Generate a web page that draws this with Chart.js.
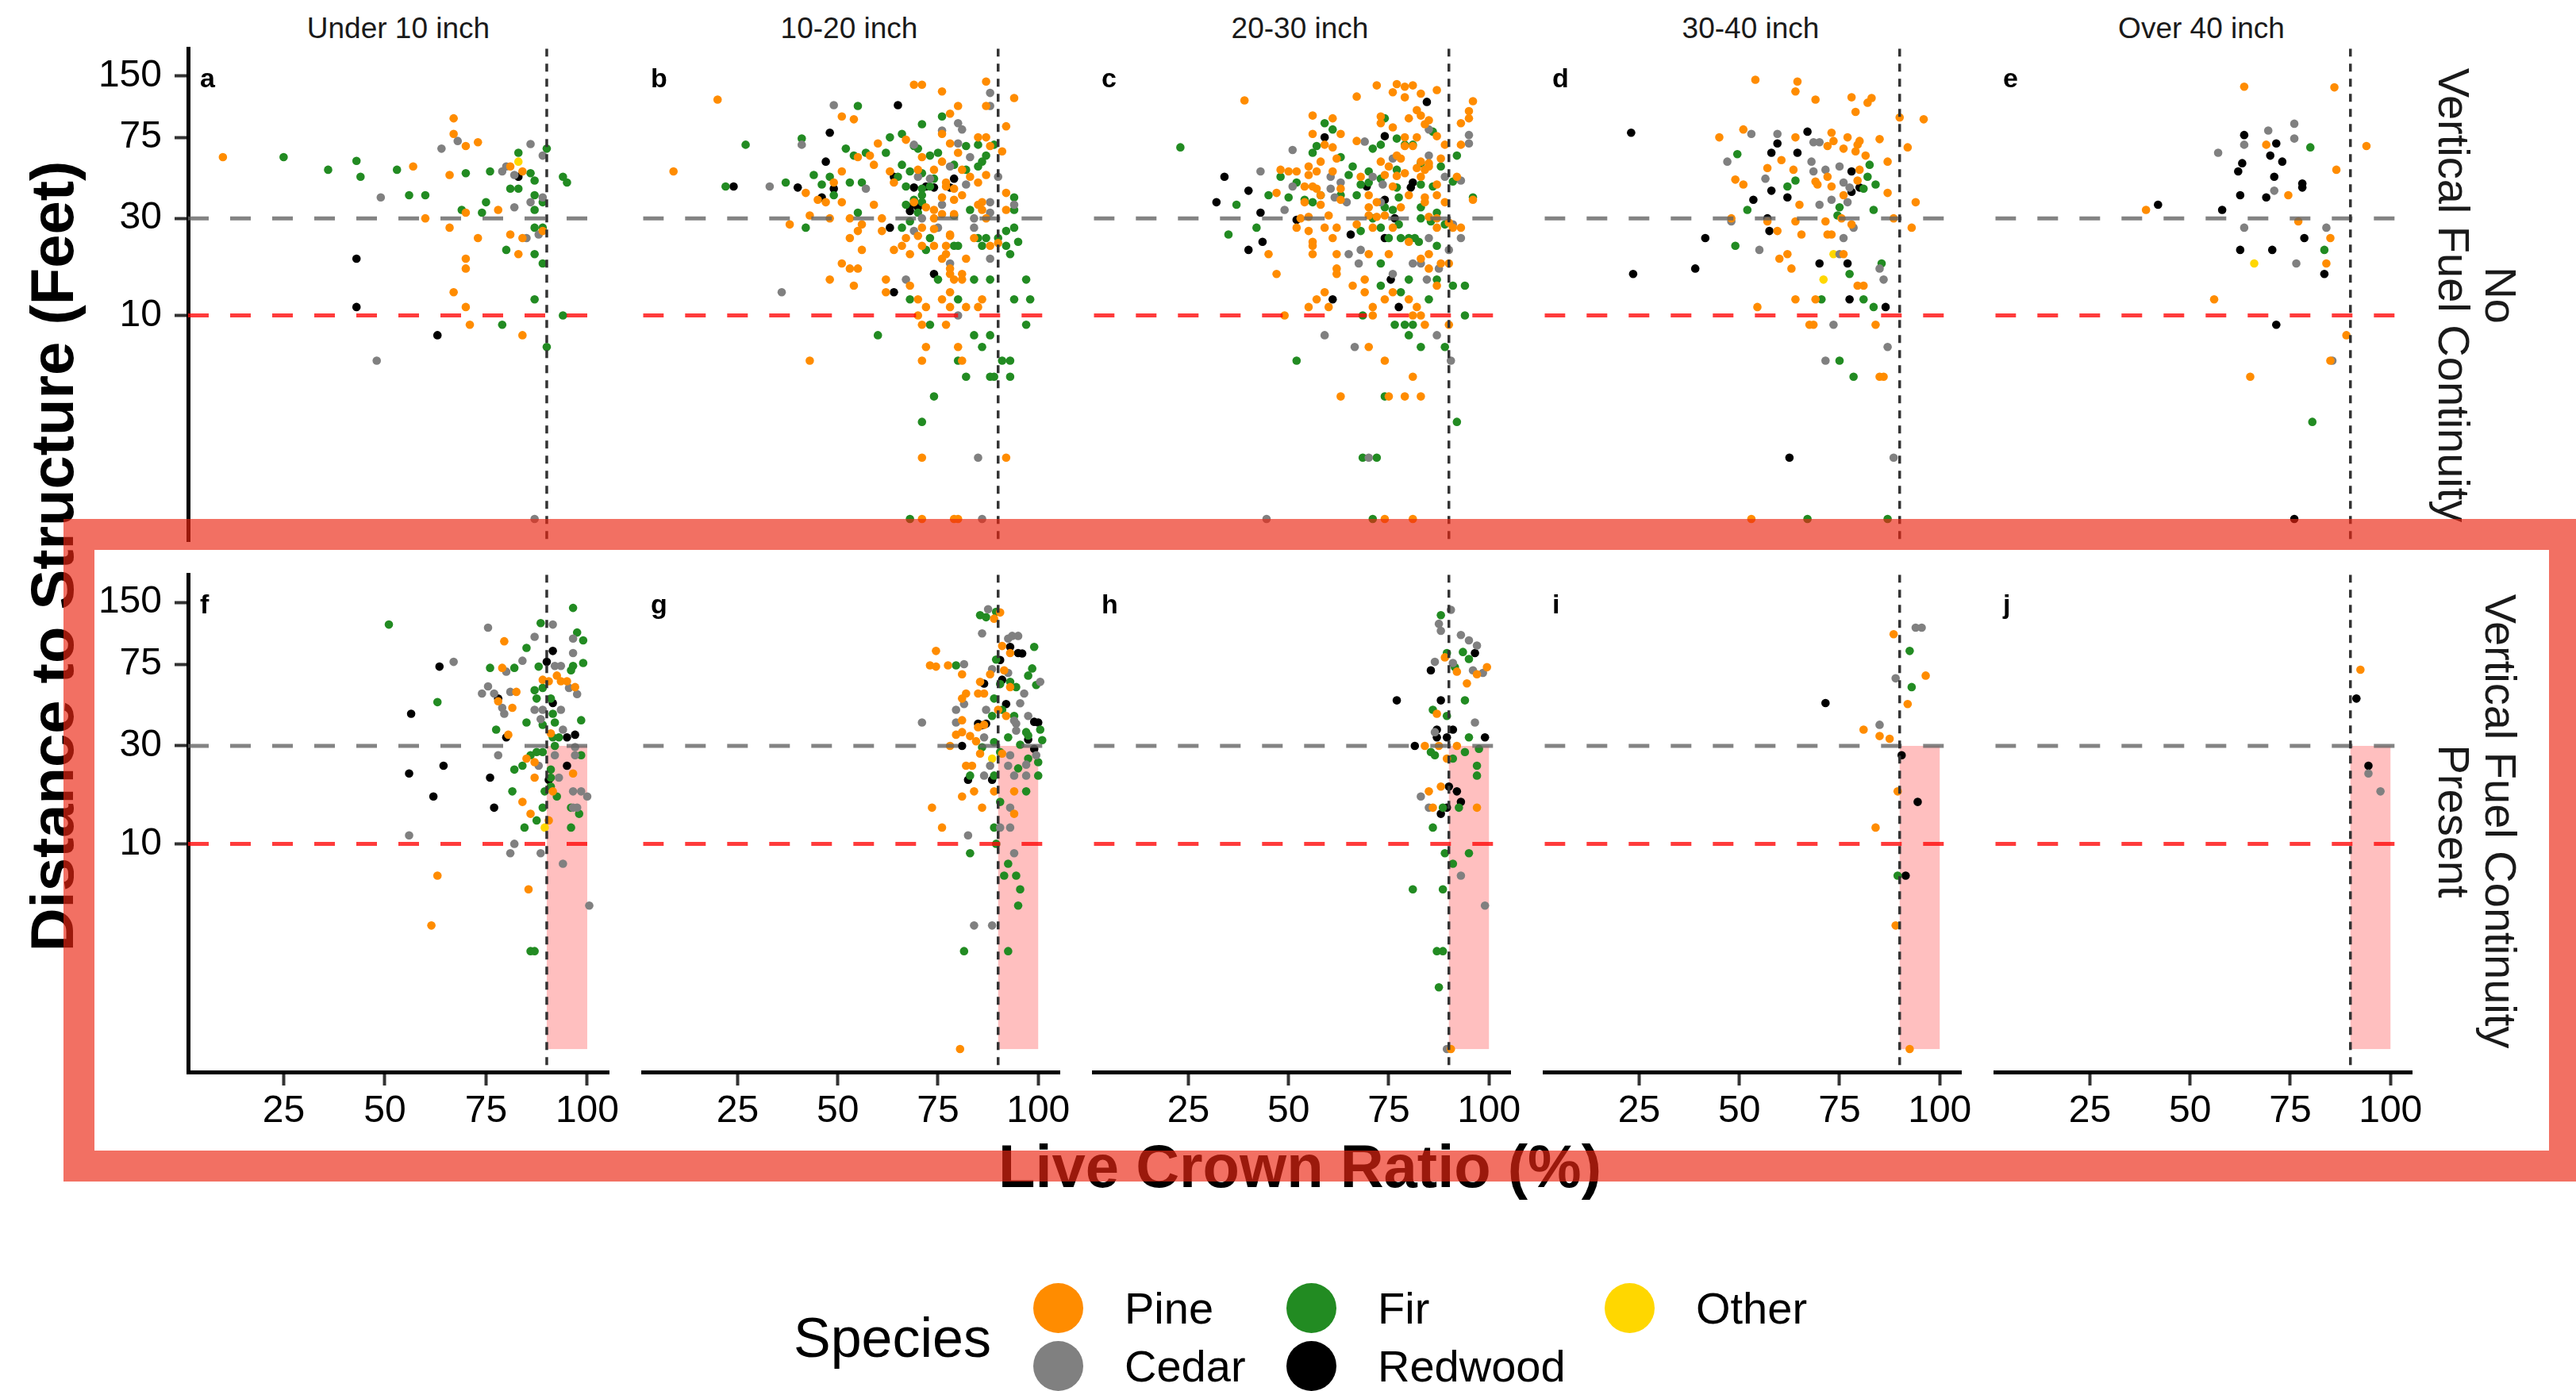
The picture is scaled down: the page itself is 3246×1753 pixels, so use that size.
<!DOCTYPE html>
<html>
<head>
<meta charset="utf-8">
<script src="https://cdn.jsdelivr.net/npm/chart.js@4.4.1/dist/chart.umd.min.js"></script>
<style>
html, body { margin: 0; padding: 0; background: #fff; }
#page { position: relative; width: 3246px; height: 1753px; overflow: hidden; font-family: "Liberation Sans", Arial, sans-serif; }
#page canvas { position: absolute; }
.txt { position: absolute; white-space: nowrap; color: #000; text-align: center; }
.key { position: absolute; width: 63px; height: 63px; border-radius: 50%; }
#band { position: absolute; left: 80px; top: 654px; width: 3171px; height: 835px; box-sizing: border-box;
        border: 39px solid rgba(236, 38, 18, 0.66); z-index: 10; pointer-events: none; }
</style>
</head>
<body>
<div id="page"><div id="band"></div></div>
<script>
// ---- data: [live crown ratio %, distance to structure ft] ----
// row 1: no vertical fuel continuity
var a_pine = [[10,60],[67,93],[67,78],[70,68],[73,71],[57,54],[66,49],[81,54],[84,51],[78,33],[70,32],[60,30],[66,27],[73,24],[81,25],[84,24],[89,26],[83,20],[70,19],[70,17],[67,13],[70,11],[71,9],[84,8]]
var a_cedar = [[64,66],[68,72],[86,69.5],[89,61],[79,51],[80,54],[82,49],[49,38],[89,38],[86,36],[82,34],[88,25],[85,24],[48,6],[87,1]]
var a_fir = [[25,60],[43,57.5],[36,52],[44,48],[53,52],[56,39],[60,39],[70,50],[76,51],[83,63],[90,66],[86,50],[87,46],[81,42],[83,42],[87,39],[89,36],[87,33],[75,36],[69,33],[74,32],[94,48],[95,45],[87,27],[89,27],[80,21],[87,20],[89,18],[87,12],[94,10],[79,9],[90,7]]
var a_redwood = [[43,19],[43,11],[63,8],[83,48]]
var a_other = [[83,57]]

var b_pine = [[20,115],[9,51],[69,136],[71,136],[76,126],[87,141],[94,117],[80,107],[87,107],[51,95],[54,92],[78,98],[92,85],[76,78],[85,75],[87,75],[67,73],[60,70],[78,70],[88,68],[91,64],[80,63],[71,60],[58,61],[55,60],[59,55],[51,51],[63,51],[70,52],[74,52],[76,57],[81,52],[83,48],[87,49],[85,45],[92,40],[77,45],[79,42],[64,45],[49,45],[77,43],[81,39],[79,37],[76,38],[42,40],[45,37],[47,36],[51,36],[59,35],[69,36],[72,34],[74,33],[85,35],[86,36],[92,33],[86,33],[76,31.5],[79,31.5],[87,30],[43,31],[48,30],[53,30],[61,30],[74,30],[38,28],[56,28],[55,26],[61,26],[71,27],[74,26.6],[78,25],[53,24],[67,24],[70,24.6],[78,24.6],[84,24],[88,22],[90,22.7],[56,21],[64,21],[66,22],[68,20],[71,22],[74,22],[77,22],[77,20],[76,19],[82,19],[51,18],[53,17],[55,17],[78,17],[81,16],[79,15],[81,15],[78,16],[48,15],[54,14],[62,15],[68,14],[62,13],[70,12],[72,11],[76,12],[78,11],[78,13],[82,11],[85,11],[86,12],[70,10],[71,9],[77,9],[72,7],[80,7],[71,6],[81,6],[43,6],[71,2],[92,2],[71,1],[79,1],[80,1]]
var b_cedar = [[49,108],[41,69],[33,43],[57,42],[88,124],[88,107],[80,88],[81,82],[76,81],[69,69],[80,70],[83,60],[78,54],[90,48],[82,44],[70,48],[73,47],[76,35],[88,36],[94,35],[88,32],[71,30],[84,30],[75,27],[84,27],[69,26],[88,19],[78,18],[67,15],[36,13],[80,10],[85,2],[86,1]]
var b_fir = [[27,69],[22,43],[37,45],[41,74],[44,49],[46,44],[48,48],[49,39],[53,45],[55,107],[52,66],[54,61],[56,45],[55,32],[42,27],[57,63],[62,63],[63,75],[66,78],[71,87],[76,95],[69,68],[70,66],[73,61],[75,63],[82,68],[85,69],[89,69],[87,61],[86,57],[85,54],[66,55],[68,51],[71,50],[74,47],[65,48],[67,43],[71,42],[71,39],[73,43],[79,55],[82,52],[67,35],[69,37],[71,36],[66,27],[68,29],[70,32],[79,31],[83,33],[94,38],[94,33],[94,27],[92,26],[85,24],[87,24],[90,24],[86,22],[95,23],[92,22],[93,20],[72,21],[73,24],[79,22],[80,22],[75,15],[84,15],[88,15],[97,15],[68,12],[80,12],[94,12],[98,12],[97,9],[73,9],[60,8],[84,8],[88,8],[86,7],[80,6],[91,6],[93,6],[82,5],[88,5],[89,5],[93,5],[74,4],[71,3],[68,1]]
var b_redwood = [[24,43],[40,42.5],[48,79],[47,57],[46,38],[49,42],[65,108],[64,48],[69,42.5],[72,43],[74,42.5],[78,42.5],[79,47],[68,34],[70,34],[68,32.6],[63,27],[74,16],[64,13]]
var b_other = []

var c_pine = [[39,114],[67,119],[72,135],[77,137],[79,133],[81,135],[76,125],[79,118],[83,123],[87,128],[96,113],[95,101],[95,93],[93,88],[93,69],[82,102],[83,96],[85,91],[84,87],[80,93],[73,95],[73,88],[76,84],[56,96],[61,93],[63,78],[56,78],[59,69],[67,72],[61,67],[62,59],[79,75],[82,75],[87,76],[89,69],[81,68],[79,68],[73,57],[75,54],[77,61],[78,59],[83,57],[85,56],[88,59],[82,53],[84,52],[83,48],[85,54],[48,52],[50,51],[52,51],[55,54],[57,51],[55,49],[58,57],[61,51],[68,48],[74,49],[77,48.5],[79,50],[92,48],[47,40],[54,43],[56,43],[57,42],[58,39],[63,42],[63,37],[70,39],[76,43],[80,39],[84,38],[87,44],[87,39],[89,36],[96,37],[54,36],[58,35],[70,34],[72,36],[78,34],[84,36],[53,30],[55,30.5],[60,31],[70,31],[72,30.5],[74,31],[85,30.5],[87,30],[90,28.6],[91,27],[93,27],[52,27],[55,26],[59,27],[62,27],[67,28],[71,27],[76,27],[87,27],[61,24],[56,23],[56,22],[56,20],[45,20],[62,20],[70,20],[75,20],[80,23],[83,19],[85,20],[88,18],[90,18],[85,17],[62,17],[62,16],[47,16],[69,15],[66,14],[69,13],[76,13],[87,14],[59,13],[57,12],[55,11],[60,11],[74,12],[80,12],[82,11],[71,11],[71,10],[81,10],[83,10],[49,10],[84,9],[90,9],[70,7],[74,6],[81,5],[63,4],[75,4],[79,4],[83,4],[74,1],[81,1]]
var c_cedar = [[51,65],[43,51],[51,43],[49,33],[60.5,48],[63,45],[60.5,42],[61.5,38],[64.5,36],[69,71.5],[71,48],[73.5,44],[73,36],[76,59],[85,61],[85,82],[89,48],[93,46],[95,77],[95,70],[91,28],[93,24],[90,21],[85,24],[65,20],[68,21],[67.5,18],[81,18],[83,18],[76,16],[84.5,15],[87.5,17],[59,8],[66.5,7],[87,8],[90.5,6],[70,2],[44.5,1]]
var c_fir = [[23,67],[59,88],[61,82],[74,93],[57,68],[56,63],[63,60],[77,74],[79,69],[81,69],[71,66],[73,69],[86,80],[66,54],[65,49],[70,51],[77,52],[83,56],[88,54],[48,48],[52,45],[50,38],[45,39],[37,35],[42,27],[35,25],[54,37],[56,36],[58,39],[63,39],[67,39],[68,44],[70,45],[73,47],[77.5,38],[77,42.5],[83,44],[86,43],[91,45.5],[83,34],[83,30],[87,32],[76,33],[74,34],[71,30],[77.5,28],[73,27],[68,26],[85.5,29],[89,28],[92,61],[96,38],[75,24],[78,24],[80,24],[81.5,24],[82.5,23],[87,22],[73,18],[80,15],[87,15],[73,14],[78,13],[85,12],[91,14],[94,14],[68.5,10],[94,10],[76.5,9],[79,9],[81,9],[80,8],[83,7],[89,7],[52,6],[74,4],[92,3],[68.5,2],[72,2],[71,1]]
var c_redwood = [[34,48],[40,41],[32,36],[43,32],[40,21],[43.5,23],[52,29.5],[59,75],[74,76],[84.5,112],[81,45],[80.5,42.5],[74,37],[76.5,30],[74,24],[65.5,25],[75.5,15],[61,12],[77.5,11],[69.5,43]]
var c_other = []

var d_pine = [[54,144],[64.5,141],[64,126],[69,115],[78,118],[83,117],[82,111],[79,100],[90,94],[96,92],[92,67],[51,82],[45,75],[64,75],[73,79],[73.5,72],[77,75],[80,72],[79.5,69],[85,73.5],[76,66],[72,68],[79,64],[81.5,61],[87,57],[60.5,58],[57,53],[63.5,52],[72,48],[80,52],[79.5,46],[49,46.5],[51,44],[69,45.5],[69.5,44],[73,43],[76,39],[87,40],[94,36],[65,35],[48,30],[57,29],[64,29],[71.5,29],[75.5,30],[78,28],[88.5,30],[93,27],[59.5,26],[65.5,25],[72,25],[73,25],[62,20],[60,19],[63,17],[76,20],[79.5,14],[81,14],[64,12],[69,12],[54.5,11],[67.5,9],[68.5,9],[84,9],[85,5],[86,5],[53,1]]
var d_cedar = [[53,78],[59.5,78],[47,57],[56.5,47],[68.5,71],[70,71],[68,57],[68.5,51],[71.5,52],[75,54],[76,45],[77.5,42.5],[77,36],[73,37],[70,35],[78.5,27],[76,24],[48,29],[55,21],[75,20],[85,17],[86,15],[73.5,9],[87,7],[71.5,6],[88.5,2]]
var d_fir = [[49.5,62],[62,43],[64,46],[52,33],[49,22],[82.5,55],[82,48],[84,44],[81,42],[75,34],[74.5,31],[83.5,33],[85.5,18],[77.5,16],[70.5,12],[81,12],[83.5,11],[75,6],[78.5,5],[67,1],[87,1]]
var d_redwood = [[23,79],[67,80],[59.5,70],[58,63],[64.5,63],[78,51],[80,42.5],[78,40.5],[53.5,37],[58,41],[62,38],[57,30],[57.5,26],[41.5,24],[39,17],[23.5,16],[70,18],[77,18],[77.5,12],[86.5,11],[62.5,2]]
var d_other = [[73.5,20],[71,15]]

var e_pine = [[63.5,133],[86,132],[69,69],[94,68],[86.5,52],[74.5,39],[39,33],[77,29],[85,24],[84,18],[56,12],[89,8],[85,6],[65,5]]
var e_cedar = [[76,87.5],[69.5,81],[76,74],[63.5,69],[57,63],[71,41],[63.5,27],[84,27],[76.5,18],[85.5,6]]
var e_fir = [[80,67],[83.5,21],[80.5,3]]
var e_redwood = [[63.5,77],[71.5,70],[70,61],[63,56],[73,57],[62,51],[71,48],[78,44.5],[78,42.5],[62.5,39],[69,38],[42,35],[58,33],[78.5,24],[62.5,21],[70.5,21],[83.5,16],[71.5,9],[76,1]]
var e_other = [[66,18]]

// row 2: vertical fuel continuity present
var f_pine = [[79.5,97],[79,72],[82.5,55],[81.5,46],[80.5,34],[89,63],[90.5,62],[92.5,66],[93.5,62],[95,62],[97,58],[91,34.5],[85,26],[87,25],[87,21],[91.5,18],[96.5,22],[84,16],[86,14],[90.5,13],[85.5,6],[63,7],[61.5,4],[78,49.5]]
var f_cedar = [[75.5,113],[67,77],[91.5,117],[87,102],[96.5,100],[96.5,85],[80,69],[84,78],[74,54],[75.5,58.5],[77,54],[81,55],[79,46],[79.5,43],[87,45],[89,45],[93.5,45],[92,73.5],[93.5,73.5],[95.5,57.5],[97.5,53.6],[88.5,40.5],[94,36],[97,29.6],[97,27],[88,24],[92,27],[93,21],[78,27],[96.5,18],[98.5,18],[100,17],[96.5,15],[97.5,15],[82,10],[81,9],[88.5,9],[94,8],[56,11],[100.5,5]]
var f_fir = [[51,117],[63,49],[76,72],[82,72],[88.5,119],[96.5,141],[97.5,107],[99,98],[85,90],[88,73],[96.5,73.5],[96,70],[99,76],[87,56],[89,57.5],[87.5,51],[91,51],[91.5,43],[92,39],[89,38],[85,39],[98.5,40],[77.5,36],[91.5,33],[93,33],[89,28],[86,27],[87.5,28],[84,24],[82,23],[91,23],[91,21],[91,19],[92,30],[98.5,27],[81.5,18],[89.5,18],[92.5,17],[89,15],[87.5,13],[84.5,12],[96,12],[96,15],[98,14],[86,3],[87,3]]
var f_redwood = [[56.5,43],[63.5,73],[56,22],[64.5,24],[62,17],[76,21],[77,15],[78,51],[80,33],[90,77],[91.5,87],[91.5,48.5],[95,33],[97,34],[95,24],[90.5,20.5]]
var f_other = [[89.5,12]]

var g_pine = [[90.5,134],[89,125],[74.5,87],[73,74],[74.5,73],[77.5,74],[81,67],[91,92],[93,85],[91.5,70],[88,67],[85.5,61.5],[82,54],[81,51],[85,54],[86.5,54],[93,58],[81,40],[79.5,34],[81,35],[83,33.5],[84.5,31.6],[85,37],[86.5,38],[78,30],[90,45],[92,42],[85.5,27.5],[91,27.5],[82,24],[83.5,24],[84,18],[89,18],[94,18],[81,17],[73.5,15],[86,15],[94,14],[76,12],[80.5,1]]
var g_cedar = [[87.5,139],[86,106],[92.5,100],[93.5,103],[95,103],[81.5,75],[88.5,71],[92.5,68],[100.5,61.5],[96.5,54],[95.5,48.4],[81.5,48],[79.5,45],[87,45],[97.5,42],[94,39.8],[94.5,38.5],[79.5,39],[71,39],[86.5,33],[94.5,35.6],[93,27],[92.5,24],[88,24],[97,24.3],[99.5,27],[86.5,21.5],[94,21.5],[97,21.5],[93,15],[90.5,12],[93,12],[82.5,11],[94,9],[84,4],[88.5,4]]
var g_fir = [[85.5,130],[87,127],[89.5,135],[99,91],[79.5,74],[89.5,79],[98.5,71.5],[97.5,66],[93,61.5],[94.5,58],[99.5,59.4],[90.5,60],[89,51],[88.5,42],[91,45],[94,42],[97,35],[100.5,36],[101,32],[97.5,33.7],[95.5,30.4],[92.5,33],[89,31.3],[86,29.5],[90.5,28],[97.5,26],[100,25],[100,21.5],[95,23.3],[89,21.5],[83,21.5],[97,18],[90.5,16],[89,12],[83,9],[92.5,8],[91.5,7],[94.5,7],[95.5,6],[95,5],[81.5,3],[92.5,3],[89.5,10]]
var g_redwood = [[93,91],[95,85],[96,84.6],[90.5,78.6],[91,63],[86.5,60.3],[92,48],[85,38.5],[87,38.5],[99,39.3],[100,39],[97.5,32.2],[99,29],[81,30],[82.5,20.5],[88.5,20.5],[86,37.8]]
var g_other = [[88.5,26]]

var h_pine = [[89,81],[92,69],[94.5,60.5],[97,67],[99.5,72.5],[87,43],[84,30],[87.5,30],[92,30],[89.5,26],[85,18],[88,19],[86,15],[97,15],[90.5,1]]
var h_cedar = [[90.5,138],[87.5,118],[88,109],[93,104],[95,98],[97,92.5],[86.5,77],[91,76],[96,70],[98.5,68],[96.5,39],[86.5,35],[83,17],[85,15],[93,7],[99,5],[89.5,1]]
var h_fir = [[88,130],[93.5,86],[95,79.5],[89.5,85],[91.5,72.5],[94,50],[86,45],[89.5,42],[95,33],[97.5,29],[85.5,28],[86.5,27],[91,26],[94,28],[97,24],[97,21.5],[88.5,15],[92.5,15],[86,12],[89,9],[95,9],[91,8],[81,6],[88.5,6],[87,3],[88.5,3],[87.5,2]]
var h_redwood = [[77,50],[88,50],[85.5,70],[96.5,85],[87,36],[91,36],[87,33],[89.5,33],[81.5,30],[99,33],[90,19],[92,18],[93,16],[89.5,15],[88,14]]
var h_other = []

var i_pine = [[88.5,105],[96.5,66],[92,48],[81,36],[85,33.5],[87.5,32.5],[89.5,18],[84,12],[89,4],[92.5,1]]
var i_cedar = [[94,113],[95.5,113],[89,64],[85,38]]
var i_fir = [[92.5,87],[93,58],[89.5,7]]
var i_redwood = [[71.5,48.5],[90.5,27],[94.5,16],[91.5,7]]
var i_other = []

var j_pine = [[92.5,70.5]]
var j_cedar = [[94.5,22],[97.5,18]]
var j_fir = []
var j_redwood = [[91.5,51],[94.5,24]]
var j_other = []

var sizeClasses = ['Under 10 inch', '10-20 inch', '20-30 inch', '30-40 inch', 'Over 40 inch']
var continuity = [['No', 'Vertical Fuel Continuity'], ['Vertical Fuel Continuity', 'Present']]
var panelLetters = ['a','b','c','d','e','f','g','h','i','j']
var species = ['Pine', 'Cedar', 'Fir', 'Redwood', 'Other']
var speciesColors = ['#FF8C00', '#808080', '#228B22', '#000000', '#FFD700']
var xTicks = [25, 50, 75, 100]
var yTicks = [10, 30, 75, 150]
var crownCut = 90          // vertical dashed line
var distLines = [30, 10]   // grey and red dashed lines
var shadeCrown = [90, 100] // pink box, bottom row
var shadeDist = [1, 30]

var panelData = [
  [a_pine, a_cedar, a_fir, a_redwood, a_other],
  [b_pine, b_cedar, b_fir, b_redwood, b_other],
  [c_pine, c_cedar, c_fir, c_redwood, c_other],
  [d_pine, d_cedar, d_fir, d_redwood, d_other],
  [e_pine, e_cedar, e_fir, e_redwood, e_other],
  [f_pine, f_cedar, f_fir, f_redwood, f_other],
  [g_pine, g_cedar, g_fir, g_redwood, g_other],
  [h_pine, h_cedar, h_fir, h_redwood, h_other],
  [i_pine, i_cedar, i_fir, i_redwood, i_other],
  [j_pine, j_cedar, j_fir, j_redwood, j_other]
]

// ---- layout ----
var FONT = '"Liberation Sans", Arial, sans-serif'
var PANEL_W = 530, PANEL_H = 632
var COL_X = [237, 805, 1373, 1941, 2509]
var ROW_Y = [56, 719]
var Y_AXIS_W = 130, X_AXIS_H = 90, R_PAD = 40
var page = document.getElementById('page')

function addText(txt, css) {
  var d = document.createElement('div')
  d.className = 'txt'
  d.textContent = txt
  Object.assign(d.style, css)
  page.appendChild(d)
  return d
}

var refLines = function(row) {
  return {
    id: 'refLines',
    beforeDatasetsDraw: function(chart) {
      if (row !== 1) return
      var ctx = chart.ctx, x = chart.scales.x, y = chart.scales.y
      var x0 = x.getPixelForValue(shadeCrown[0]), x1 = x.getPixelForValue(shadeCrown[1])
      var y0 = y.getPixelForValue(shadeDist[0]), y1 = y.getPixelForValue(shadeDist[1])
      ctx.save()
      ctx.fillStyle = 'rgba(255,0,0,0.25)'
      ctx.fillRect(x0, y1, x1 - x0, y0 - y1)
      ctx.restore()
    },
    afterDatasetsDraw: function(chart) {
      var ctx = chart.ctx, a = chart.chartArea, x = chart.scales.x, y = chart.scales.y
      ctx.save()
      ctx.beginPath(); ctx.rect(a.left, a.top, a.right - a.left, a.bottom - a.top); ctx.clip()
      ctx.lineWidth = 5
      ctx.setLineDash([26, 27])
      var cols = ['rgba(100,100,100,0.8)', 'rgba(255,10,10,0.8)']
      distLines.forEach(function(v, k) {
        var py = y.getPixelForValue(v)
        ctx.strokeStyle = cols[k]
        ctx.beginPath(); ctx.moveTo(a.left, py); ctx.lineTo(a.right, py); ctx.stroke()
      })
      var px = x.getPixelForValue(crownCut)
      ctx.lineWidth = 3.5
      ctx.strokeStyle = '#333333'
      ctx.setLineDash([10, 9])
      ctx.beginPath(); ctx.moveTo(px, a.top); ctx.lineTo(px, a.bottom); ctx.stroke()
      ctx.restore()
    }
  }
}

function makePanel(row, col) {
  var hasY = col === 0, hasX = row === 1
  var cv = document.createElement('canvas')
  var w = PANEL_W + (hasY ? Y_AXIS_W : 0) + R_PAD
  var h = PANEL_H + (hasX ? X_AXIS_H : 0)
  cv.width = w; cv.height = h
  cv.style.left = (COL_X[col] - (hasY ? Y_AXIS_W : 0)) + 'px'
  cv.style.top = ROW_Y[row] + 'px'
  page.appendChild(cv)

  var sets = panelData[row * 5 + col]
  var axisGrid = { display: true, drawOnChartArea: false, drawTicks: true, tickLength: 17, tickWidth: 4, tickColor: '#333333' }
  var axisBorder = { display: true, color: '#000000', width: 5 }

  new Chart(cv, {
    type: 'scatter',
    data: {
      datasets: species.map(function(s, i) {
        return {
          label: s,
          data: sets[i].map(function(p) { return { x: p[0], y: p[1] } }),
          backgroundColor: speciesColors[i],
          borderWidth: 0,
          pointRadius: 5.3,
          pointHoverRadius: 5.3
        }
      })
    },
    options: {
      responsive: false,
      animation: false,
      devicePixelRatio: 1,
      layout: { padding: { left: 0, top: 0, bottom: 0, right: R_PAD } },
      plugins: { legend: { display: false }, tooltip: { enabled: false } },
      scales: {
        x: {
          type: 'linear', min: 1.4, max: 105.3, display: hasX,
          afterBuildTicks: function(s) { s.ticks = xTicks.map(function(v) { return { value: v } }) },
          afterFit: function(s) {
            s.height = hasX ? X_AXIS_H : 0
            s.paddingLeft = 0; s.paddingRight = 0
          },
          grid: axisGrid, border: axisBorder,
          ticks: { font: { family: FONT, size: 48 }, color: '#000', padding: 4, maxRotation: 0, autoSkip: false,
                   callback: function(v) { return String(v) } }
        },
        y: {
          type: 'logarithmic', min: 0.773, max: 204.6, display: hasY,
          afterBuildTicks: function(s) { s.ticks = yTicks.map(function(v) { return { value: v } }) },
          afterFit: function(s) {
            s.width = hasY ? Y_AXIS_W : 0
            s.paddingTop = 0; s.paddingBottom = 0
          },
          grid: axisGrid, border: axisBorder,
          ticks: { font: { family: FONT, size: 48 }, color: '#000', padding: 16, autoSkip: false,
                   callback: function(v) { return String(v) } }
        }
      }
    },
    plugins: [refLines(row)]
  })

  addText(panelLetters[row * 5 + col], {
    left: (COL_X[col] + 15) + 'px', top: (ROW_Y[row] + 25) + 'px',
    fontSize: '34px', lineHeight: '34px', fontWeight: 'bold', textAlign: 'left'
  })
}

for (var r = 0; r < 2; r++) for (var c = 0; c < 5; c++) makePanel(r, c)

// strip labels on top
sizeClasses.forEach(function(s, c) {
  addText(s, { left: (COL_X[c] + PANEL_W / 2 - 300) + 'px', width: '600px', top: '17px',
               fontSize: '37px', lineHeight: '37px', color: '#1A1A1A' })
})

// strip labels on right, rotated clockwise
var stripX = [3151, 3092]
continuity.forEach(function(lines, r) {
  var cy = ROW_Y[r] + PANEL_H / 2
  lines.forEach(function(t, k) {
    addText(t, { left: (stripX[k] - 350) + 'px', top: (cy - 28) + 'px', width: '700px',
                 fontSize: '56px', lineHeight: '56px', color: '#1A1A1A', transform: 'rotate(90deg)' })
  })
})

// axis titles
addText('Distance to Structure (Feet)', { left: (66 - 600) + 'px', top: (701 - 38) + 'px', width: '1200px',
  fontSize: '76px', lineHeight: '76px', fontWeight: 'bold', transform: 'rotate(-90deg)' })
addText('Live Crown Ratio (%)', { left: (1638 - 600) + 'px', top: (1470 - 38) + 'px', width: '1200px',
  fontSize: '76px', lineHeight: '76px', fontWeight: 'bold' })

// legend
addText('Species', { left: '1000px', top: (1710 - 59) + 'px', fontSize: '70px', lineHeight: '70px', textAlign: 'left' })
var keyPos = [[1333, 1648], [1333, 1721], [1652, 1648], [1652, 1721], [2053, 1648]]
species.forEach(function(s, i) {
  var k = document.createElement('div')
  k.className = 'key'
  k.style.left = (keyPos[i][0] - 31.5) + 'px'
  k.style.top = (keyPos[i][1] - 31.5) + 'px'
  k.style.background = speciesColors[i]
  page.appendChild(k)
  addText(s, { left: (keyPos[i][0] + 84) + 'px', top: (keyPos[i][1] + 20 - 47) + 'px',
               fontSize: '56px', lineHeight: '56px', textAlign: 'left' })
})
</script>
</body>
</html>
